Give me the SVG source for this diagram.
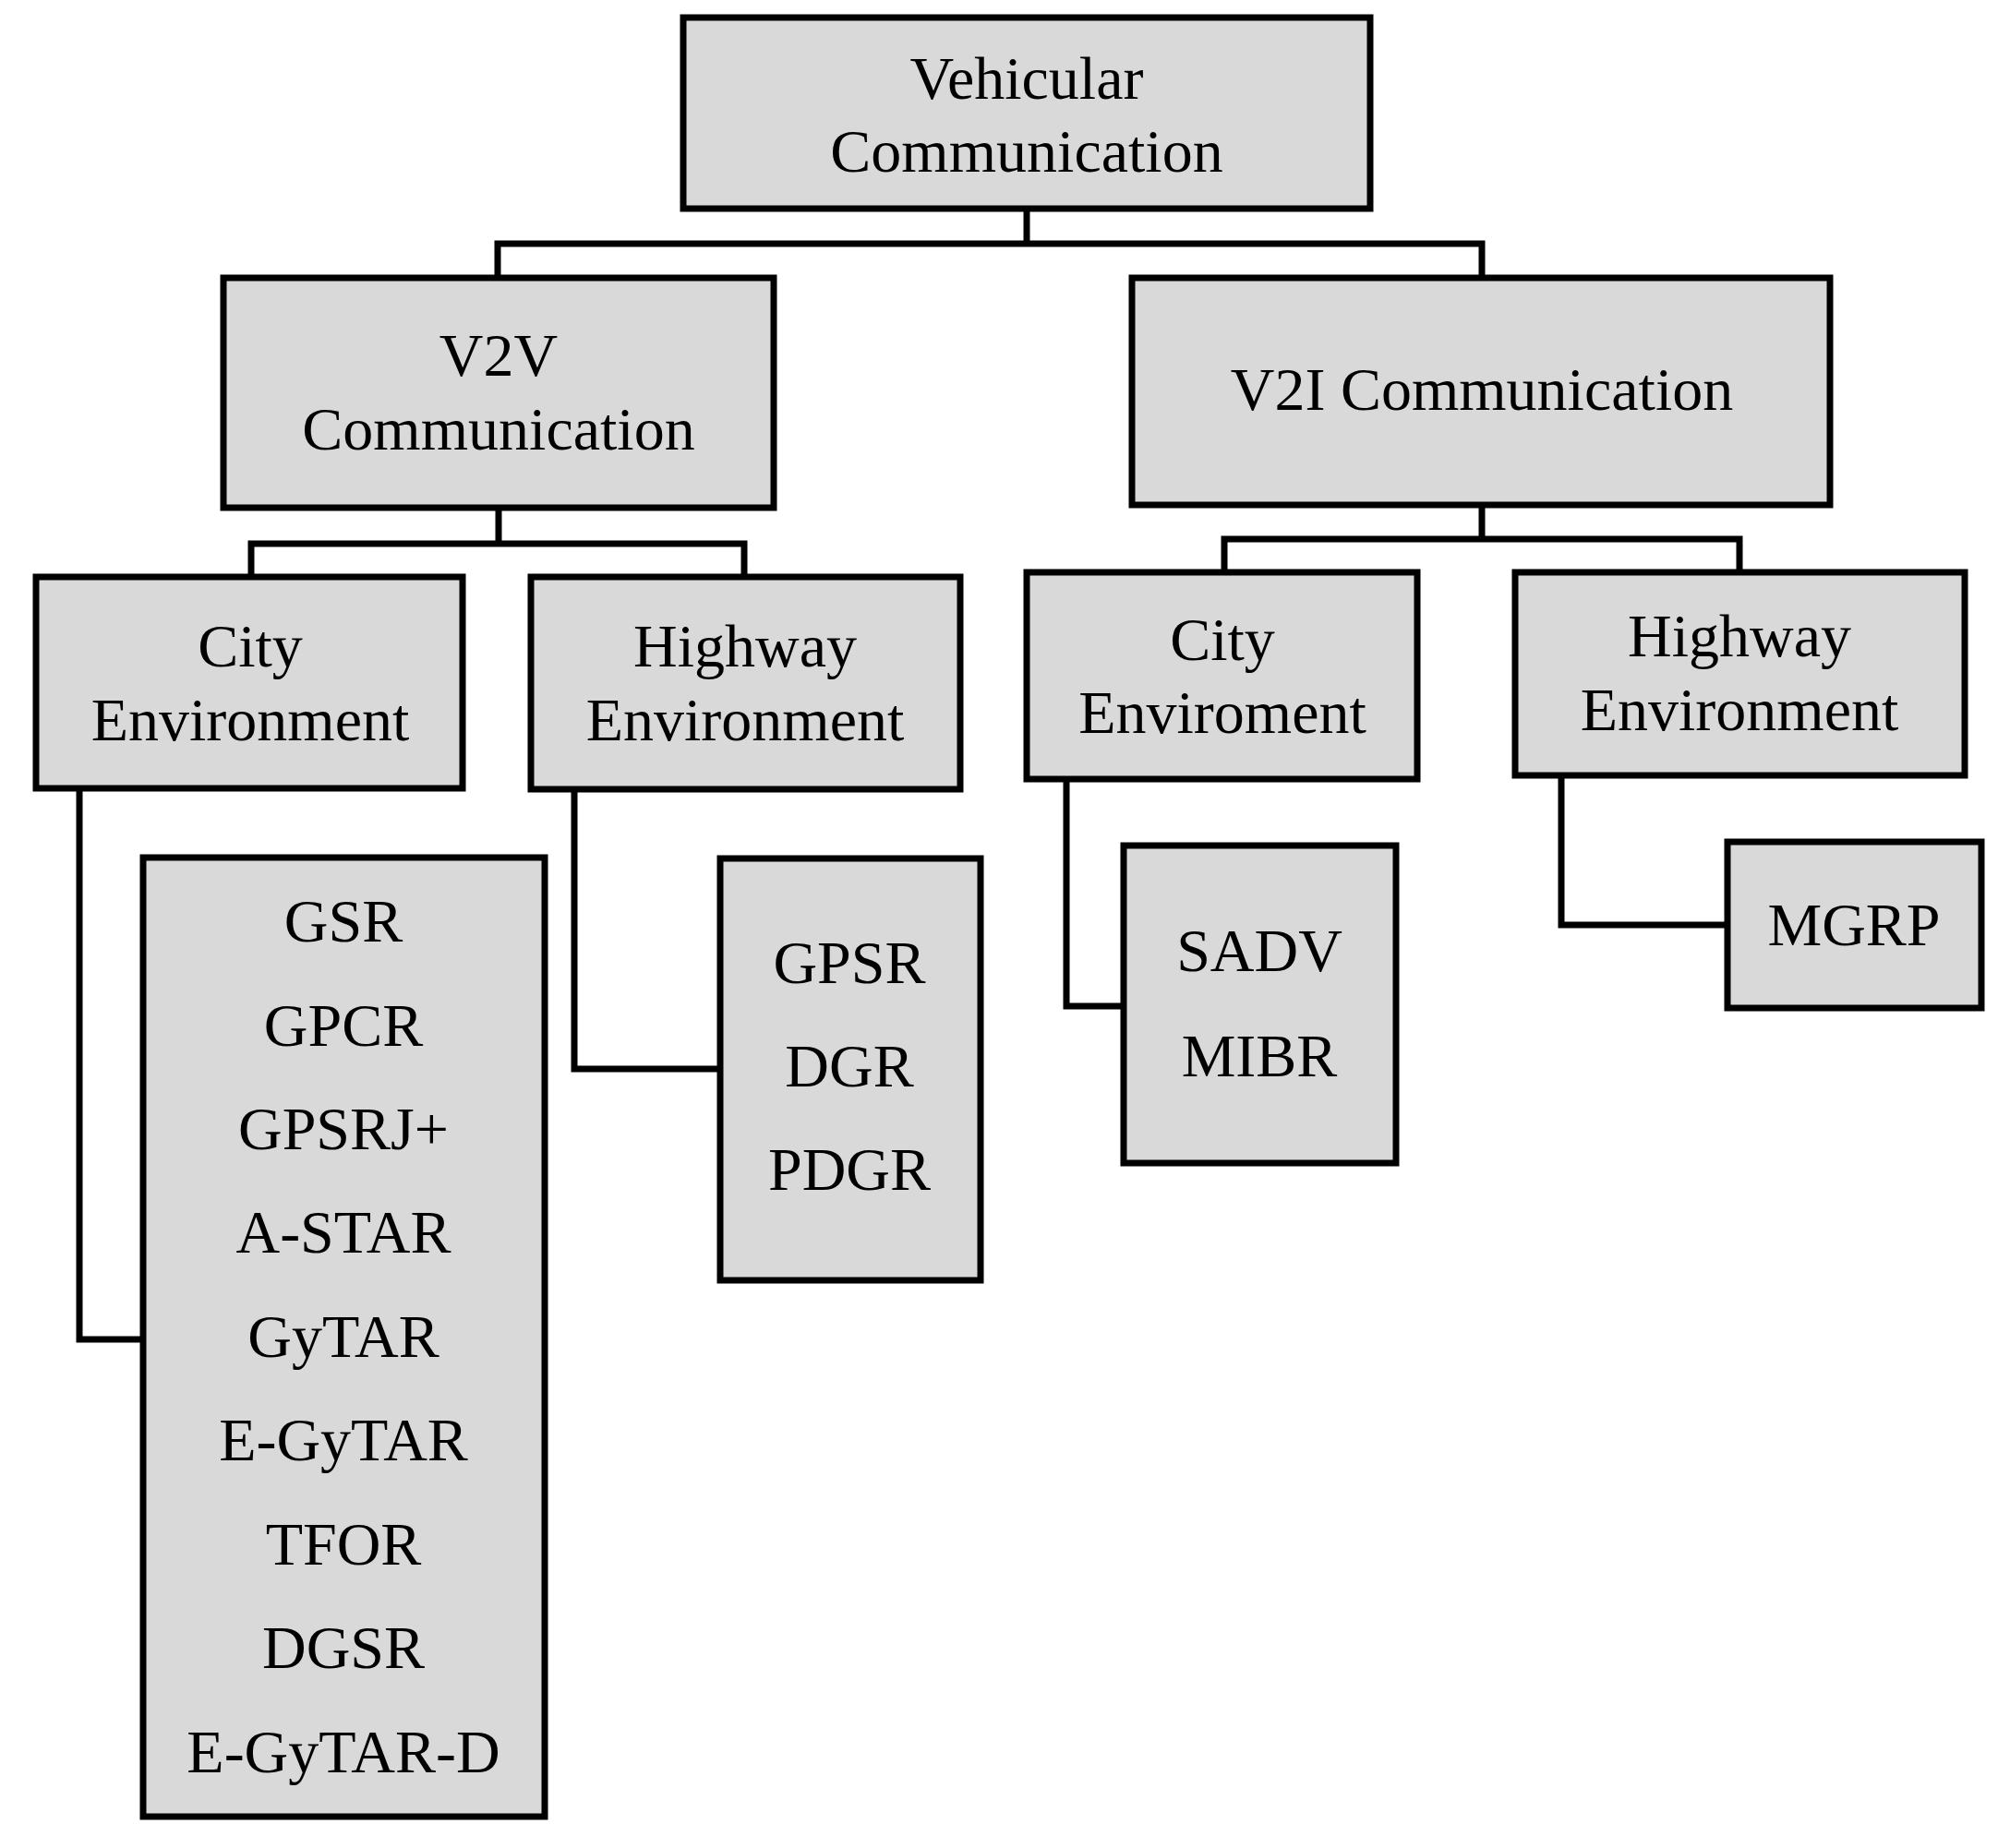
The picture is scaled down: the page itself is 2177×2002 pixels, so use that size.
<svg xmlns="http://www.w3.org/2000/svg" width="2177" height="2002" viewBox="0 0 2177 2002">
<style>
.n{fill:#d9d9d9;stroke:#000;stroke-width:7}
.c{fill:none;stroke:#000;stroke-width:7}
text{font-family:"Liberation Serif","DejaVu Serif",serif;font-size:66px;text-anchor:middle;fill:#000}
</style>
<rect width="2177" height="2002" fill="#fff"/>
<g id="connectors">
<path class="c" d="M1112 226V264M539 301V264H1605V301"/>
<path class="c" d="M540 550V589M272 625V589H806V625"/>
<path class="c" d="M1605 547V584M1326 620V584H1884V620"/>
<path class="c" d="M86 854V1451H155"/>
<path class="c" d="M622 855V1158H780"/>
<path class="c" d="M1155 844V1090H1217"/>
<path class="c" d="M1691 840V1002H1871"/>
</g>
<g id="root"><rect class="n" x="740" y="19" width="744" height="207"/><text x="1112" y="107">Vehicular</text><text x="1112" y="186">Communication</text></g>
<g id="v2v"><rect class="n" x="242" y="301" width="596" height="249"/><text x="540" y="407">V2V</text><text x="540" y="487">Communication</text></g>
<g id="v2i"><rect class="n" x="1226" y="301" width="756" height="246"/><text x="1605" y="444">V2I Communication</text></g>
<g id="v2v-city"><rect class="n" x="39" y="625" width="462" height="229"/><text x="271" y="722">City</text><text x="271" y="802">Environment</text></g>
<g id="v2v-highway"><rect class="n" x="575" y="625" width="465" height="230"/><text x="807" y="722">Highway</text><text x="807" y="802">Environment</text></g>
<g id="v2i-city"><rect class="n" x="1112" y="620" width="423" height="224"/><text x="1324" y="715">City</text><text x="1324" y="794">Enviroment</text></g>
<g id="v2i-highway"><rect class="n" x="1641" y="620" width="487" height="220"/><text x="1884" y="711">Highway</text><text x="1884" y="791">Environment</text></g>
<g id="v2v-city-list"><rect class="n" x="155" y="929" width="435" height="1039"/>
<text x="372" y="1020">GSR</text><text x="372" y="1133">GPCR</text><text x="372" y="1245">GPSRJ+</text><text x="372" y="1357">A-STAR</text><text x="372" y="1470">GyTAR</text><text x="372" y="1582">E-GyTAR</text><text x="372" y="1695">TFOR</text><text x="372" y="1807">DGSR</text><text x="372" y="1920">E-GyTAR-D</text></g>
<g id="v2v-highway-list"><rect class="n" x="780" y="930" width="282" height="457"/><text x="920" y="1065">GPSR</text><text x="920" y="1177">DGR</text><text x="920" y="1289">PDGR</text></g>
<g id="v2i-city-list"><rect class="n" x="1217" y="916" width="295" height="344"/><text x="1364" y="1052">SADV</text><text x="1364" y="1166">MIBR</text></g>
<g id="v2i-highway-list"><rect class="n" x="1871" y="912" width="275" height="180"/><text x="2008" y="1024">MGRP</text></g>
</svg>
